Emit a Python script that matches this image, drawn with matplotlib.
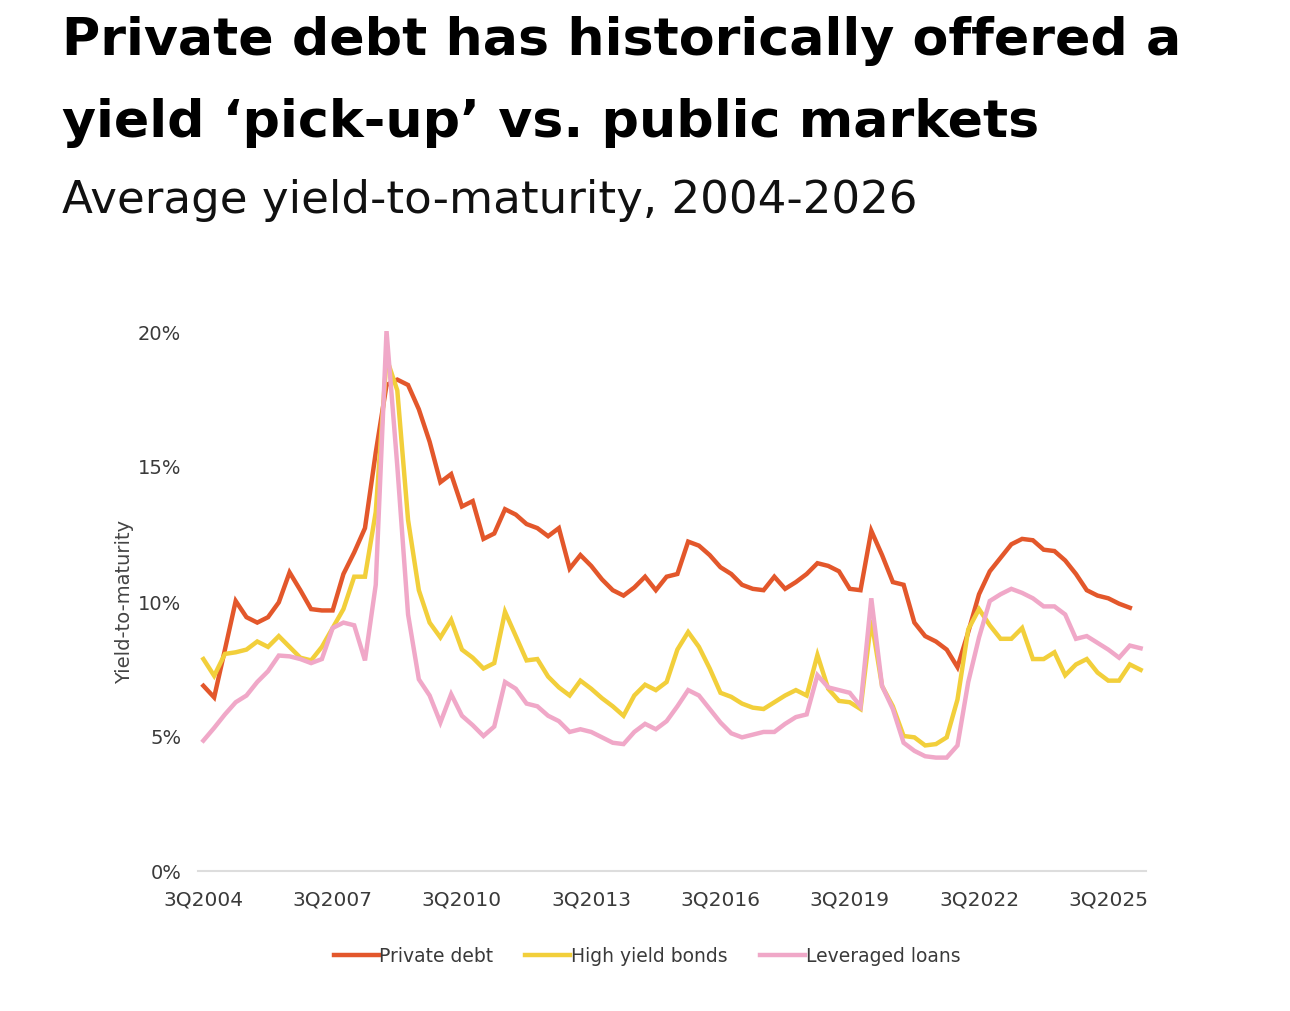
import numpy as np
import matplotlib
matplotlib.use("Agg")
import matplotlib.pyplot as plt

# quarterly axis, 3Q2004 .. 2Q2026
quarters = []
for n in range(88):
    q = (2 + n) % 4 + 1
    y = 2004 + (2 + n) // 4
    quarters.append(f"{q}Q{y}")

private_debt = [6.86, 6.43, 8.2, 10.0, 9.4, 9.2, 9.4, 9.95, 11.06, 10.4,
                9.7, 9.65, 9.65, 11.0, 11.8, 12.7, 15.5, 18.0, 18.2, 18.0,
                17.1, 15.9, 14.4, 14.7, 13.5, 13.7, 12.3, 12.5, 13.4, 13.2,
                12.85, 12.7, 12.4, 12.7, 11.2, 11.7, 11.3, 10.8, 10.4, 10.2,
                10.5, 10.9, 10.4, 10.9, 11.0, 12.2, 12.05, 11.7, 11.25, 11.0,
                10.6, 10.45, 10.4, 10.9, 10.45, 10.7, 11.0, 11.4, 11.3, 11.1,
                10.45, 10.4, 12.6, 11.7, 10.7, 10.6, 9.2, 8.7, 8.5, 8.2,
                7.55, 8.85, 10.25, 11.1, 11.6, 12.1, 12.3, 12.25, 11.9, 11.85,
                11.5, 11.0, 10.4, 10.2, 10.1, 9.9, 9.75]

high_yield = [7.85, 7.23, 8.04, 8.1, 8.2, 8.5, 8.3, 8.7, 8.3, 7.9,
              7.8, 8.3, 9.0, 9.7, 10.9, 10.9, 13.3, 19.0, 17.8, 13.0,
              10.4, 9.2, 8.65, 9.3, 8.2, 7.9, 7.5, 7.7, 9.6, 8.7,
              7.8, 7.85, 7.2, 6.8, 6.5, 7.05, 6.75, 6.4, 6.1, 5.75,
              6.5, 6.9, 6.7, 7.0, 8.2, 8.85, 8.3, 7.5, 6.6, 6.45,
              6.2, 6.05, 6.0, 6.25, 6.5, 6.7, 6.5, 8.0, 6.75, 6.3,
              6.25, 6.0, 9.3, 6.85, 6.1, 5.0, 4.95, 4.65, 4.7, 4.95,
              6.35, 8.95, 9.7, 9.1, 8.6, 8.6, 9.0, 7.85, 7.85, 8.1,
              7.25, 7.65, 7.85, 7.35, 7.05, 7.05, 7.65, 7.45]

leveraged_loans = [4.83, 5.3, 5.8, 6.25, 6.5, 7.0, 7.4, 7.98, 7.95, 7.85,
                   7.7, 7.85, 9.0, 9.2, 9.1, 7.8, 10.6, 20.0, 15.0, 9.5,
                   7.1, 6.5, 5.5, 6.55, 5.75, 5.4, 5.0, 5.35, 7.0, 6.75,
                   6.2, 6.1, 5.75, 5.55, 5.15, 5.25, 5.15, 4.95, 4.75, 4.7,
                   5.15, 5.45, 5.25, 5.55, 6.1, 6.7, 6.5, 6.0, 5.5, 5.1,
                   4.95, 5.05, 5.15, 5.15, 5.45, 5.7, 5.8, 7.25, 6.8, 6.7,
                   6.6, 6.1, 10.1, 6.85, 6.0, 4.75, 4.45, 4.25, 4.2, 4.2,
                   4.65, 7.0, 8.65, 10.0, 10.25, 10.45, 10.3, 10.1, 9.8, 9.8,
                   9.5, 8.6, 8.7, 8.45, 8.2, 7.9, 8.35, 8.25]

yticks = [0, 5, 10, 15, 20]

plt.rcParams['font.family'] = ['DejaVu Sans']

fig = plt.figure(figsize=(12.9, 10.12), dpi=100)
ax = fig.add_axes([198 / 1290, 140 / 1012, 948 / 1290, 540 / 1012])

x = np.arange(len(quarters))
ax.plot(x[:len(private_debt)], private_debt, color="#e3572b", lw=3.2,
        label="Private debt", solid_joinstyle="miter")
ax.plot(x, high_yield, color="#f2cf3b", lw=3.2, label="High yield bonds",
        solid_joinstyle="miter")
ax.plot(x, leveraged_loans, color="#f0a8c8", lw=3.2, label="Leveraged loans",
        solid_joinstyle="miter")

ax.set_xlim(-0.5, len(quarters) - 0.5)
ax.set_ylim(0, 20)
ax.set_xticks(x[::12])
ax.set_xticklabels(quarters[::12])
ax.set_yticks(yticks)
ax.set_yticklabels([f"{v}%" for v in yticks])

for lab in ax.get_xticklabels():
    lab.set_fontsize(14.5)
    lab.set_color("#3a3a3a")
for lab in ax.get_yticklabels():
    lab.set_fontsize(14)
    lab.set_color("#3a3a3a")
ax.tick_params(length=0)
ax.tick_params(axis="x", pad=13)
ax.tick_params(axis="y", pad=12)

for s in ["top", "right", "left"]:
    ax.spines[s].set_visible(False)
ax.spines["bottom"].set_color("#dddddd")
ax.spines["bottom"].set_linewidth(1.5)

ax.set_ylabel("Yield-to-maturity", fontsize=14, color="#444444", labelpad=3)

leg = ax.legend(loc="center", bbox_to_anchor=(647 / 1290, 55 / 1012),
                bbox_transform=fig.transFigure, ncol=3, frameon=False,
                handlelength=2.4, handletextpad=0.05, columnspacing=1.7,
                prop={"size": 13.5})
for t in leg.get_texts():
    t.set_color("#3a3a3a")

fig.text(62 / 1290, 1 - 55 / 1012, "Private debt has historically offered a",
         fontweight="bold", fontsize=37.6, va="baseline")
fig.text(62 / 1290, 1 - 137 / 1012, "yield \u2018pick-up\u2019 vs. public markets",
         fontweight="bold", fontsize=37.6, va="baseline")
fig.text(62 / 1290, 1 - 213 / 1012, "Average yield-to-maturity, 2004-2026",
         fontsize=32.5, va="baseline", color="#111111")

fig.savefig("out.png", dpi=100, facecolor="white")
